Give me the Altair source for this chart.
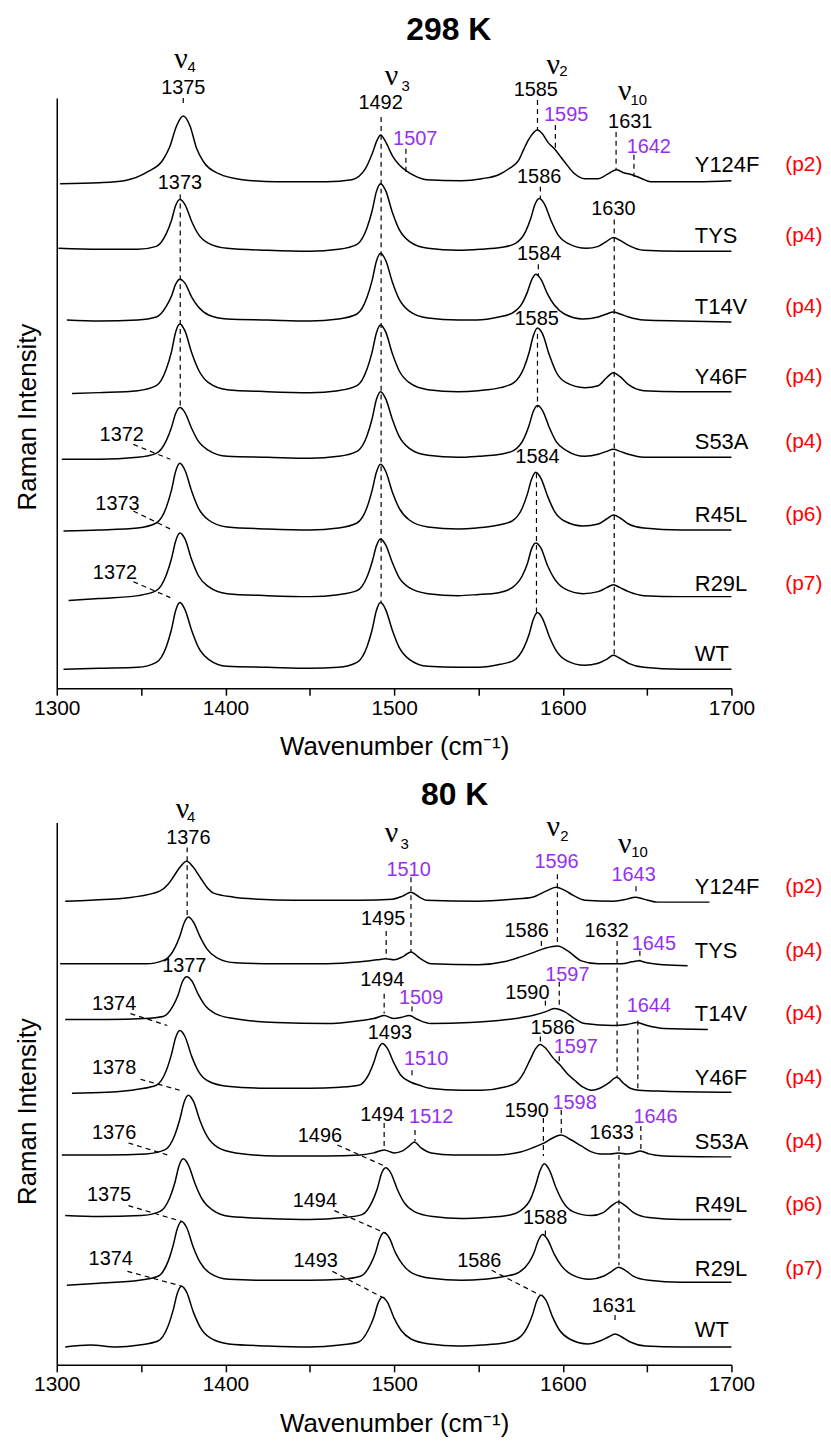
import altair as alt
import pandas as pd

FONT = "Liberation Sans"
SERIF = "Liberation Serif"
PURPLE = "#9530f0"
RED = "#ff0000"

# ---------------- 298 K ----------------
SAMPLES_298 = ["Y124F", "TYS", "T14V", "Y46F", "S53A", "R45L", "R29L", "WT"]
OFFSETS_298 = [507, 439, 369, 297, 231, 159, 92, 19]
PREP_298 = ["(p2)", "(p4)", "(p4)", "(p4)", "(p4)", "(p6)", "(p7)", ""]
LABEL_Y_298 = [526, 454, 383, 313, 247, 174, 105, 34]

Y124F_298 = [(1302,0),(1325,1),(1340,3),(1354,12),(1363,24),(1367,37),(1371,58),(1375,68),(1379,58),(1383,35),(1387,22),(1396,10),(1410,4),(1430,2),(1460,2),(1475,4),(1483,15),(1487,30),(1490,44),(1492,49),(1495,42),(1499,28),(1503,19),(1507,13),(1512,8),(1519,4),(1540,3),(1552,5),(1562,9),(1568,15),(1574,24),(1577,35),(1580,45),(1585,54),(1588,50),(1591,42),(1595,35),(1601,22),(1607,10),(1613,5),(1621,5),(1626,9),(1632,14),(1636,11),(1641,9),(1647,5),(1652,2),(1680,2),(1700,3)]
TYS_298 = [(1301,3),(1325,2),(1348,2),(1359,5),(1365,18),(1368,31),(1370.5,46),(1373,52),(1376,47),(1380,30),(1384,17),(1390,8),(1401,3),(1425,1),(1450,0),(1467,2),(1478,7),(1484,24),(1487,41),(1489.5,60),(1492,68),(1495,61),(1499,39),(1503,22),(1509,10),(1520,3),(1538,1),(1551,2),(1564,4),(1572,8),(1578,20),(1581,33),(1583.5,47),(1586,53),(1589,48),(1593,31),(1597,17),(1603,8),(1614,3),(1621,5),(1626,10),(1630,14),(1634,11),(1639,6),(1648,1),(1670,0),(1700,0)]
T14V_298 = [(1306,1),(1325,0),(1348,1),(1359,4),(1365,15),(1368,25),(1370.5,37),(1373,42),(1376,38),(1380,24),(1384,14),(1390,6),(1401,2),(1425,1),(1450,0),(1467,2),(1478,7),(1484,24),(1487,41),(1489.5,60),(1492,68),(1495,61),(1499,39),(1503,22),(1509,10),(1520,3),(1538,1),(1549,1),(1562,4),(1570,8),(1576,18),(1579,29),(1581.5,41),(1584,47),(1587,42),(1591,27),(1595,16),(1601,7),(1612,2),(1621,4),(1626,7),(1630,9),(1634,7),(1639,4),(1648,1),(1670,0),(1700,-1)]
Y46F_298 = [(1309,-1),(1325,0),(1348,2),(1359,7),(1365,24),(1368,41),(1370.5,61),(1373,69),(1376,62),(1380,40),(1384,23),(1390,10),(1401,3),(1425,1),(1450,0),(1467,2),(1478,7),(1484,24),(1487,41),(1489.5,60),(1492,68),(1495,61),(1499,39),(1503,22),(1509,10),(1520,3),(1538,1),(1550,2),(1563,5),(1571,10),(1577,25),(1580,40),(1582.5,57),(1585,65),(1588,59),(1592,38),(1596,21),(1602,10),(1613,5),(1621,7),(1626,15),(1630,20),(1634,16),(1639,8),(1648,2),(1670,1),(1700,1)]
S53A_298 = [(1303,-1),(1325,-1),(1348,1),(1359,5),(1365,18),(1368,31),(1370.5,45),(1373,51),(1376,46),(1380,30),(1384,17),(1390,8),(1401,2),(1425,1),(1450,0),(1467,2),(1478,7),(1484,23),(1487,40),(1489.5,59),(1492,67),(1495,60),(1499,39),(1503,22),(1509,10),(1520,3),(1538,1),(1550,2),(1563,4),(1571,8),(1577,20),(1580,33),(1582.5,47),(1585,53),(1588,48),(1592,31),(1596,17),(1602,8),(1613,2),(1621,4),(1626,7),(1630,9),(1634,7),(1639,4),(1648,1),(1670,1),(1700,1)]
R45L_298 = [(1304,-1),(1325,0),(1348,2),(1359,7),(1365,23),(1368,40),(1370.5,59),(1373,67),(1376,60),(1380,39),(1384,22),(1390,10),(1401,3),(1425,1),(1450,0),(1467,2),(1478,7),(1484,23),(1487,40),(1489.5,58),(1492,66),(1495,59),(1499,38),(1503,22),(1509,10),(1520,3),(1538,1),(1549,2),(1562,5),(1570,9),(1576,22),(1579,36),(1581.5,51),(1584,58),(1587,52),(1591,34),(1595,19),(1601,9),(1612,4),(1621,6),(1626,11),(1630,15),(1634,12),(1639,6),(1648,2),(1670,0),(1700,0)]
R29L_298 = [(1307,-4),(1325,-2),(1348,1),(1359,6),(1365,22),(1368,38),(1370.5,56),(1373,64),(1376,58),(1380,37),(1384,21),(1390,10),(1401,3),(1425,1),(1450,0),(1467,2),(1478,6),(1484,20),(1487,35),(1489.5,51),(1492,58),(1495,52),(1499,34),(1503,19),(1509,9),(1520,3),(1538,1),(1549,2),(1562,4),(1570,9),(1576,21),(1579,33),(1581.5,48),(1584,54),(1587,49),(1591,31),(1595,18),(1601,8),(1612,3),(1621,5),(1626,9),(1630,12),(1634,9),(1639,5),(1648,1),(1670,0),(1700,0)]
WT_298 = [(1304,0),(1325,1),(1348,2),(1359,7),(1365,23),(1368,40),(1370.5,59),(1373,67),(1376,60),(1380,39),(1384,22),(1390,10),(1401,3),(1425,2),(1450,1),(1467,2),(1478,7),(1484,23),(1487,40),(1489.5,59),(1492,67),(1495,60),(1499,39),(1503,22),(1509,10),(1520,3),(1538,2),(1550,2),(1563,5),(1571,9),(1577,22),(1580,35),(1582.5,50),(1585,57),(1588,51),(1592,33),(1596,19),(1602,9),(1613,4),(1621,6),(1626,10),(1630,14),(1634,11),(1639,6),(1648,2),(1670,0),(1700,0)]
SPECTRA_298 = [Y124F_298, TYS_298, T14V_298, Y46F_298, S53A_298, R45L_298, R29L_298, WT_298]

NUMS_298 = [("1375",1375,603),("1492",1492,588),("1585",1584,601),("1631",1640,569),
            ("1373",1373,508),("1586",1586,514),("1630",1630,481),("1584",1586,436),
            ("1585",1584.5,371),("1584",1585,232),("1372",1338.5,254),("1373",1336,185),
            ("1372",1334.5,116)]
PURPLE_298 = [("1507",1512.5,552),("1595",1602,576),("1642",1651,544)]
NU_298 = [(1373.7,632),(1498.5,615),(1594.4,626),(1636.7,600)]
NU_SUB_298 = [("4",1379.9,624),("3",1506.8,605),("2",1600.3,620),("10",1645.1,591)]
DASH_298 = [(1375,593,1375,585),(1373.2,496,1373.2,281),(1492.3,574,1492.3,86),
            (1507,542,1507,519),(1585,591,1585,561),(1595.6,566,1595.6,542),
            (1631.6,559,1631.6,521),(1642.2,536,1642.2,514),(1586.7,504,1586.7,492),
            (1630.5,471,1630.5,32),(1585.5,426,1585.5,414),(1585,356,1585,282),
            (1584.4,216,1584.4,76),
            (1345.4,245,1367.3,230),(1345.4,178,1367.3,160),(1345.4,107,1367.3,91)]
TITLE_298 = [("298 K",1532.4,661)]

# ---------------- 80 K ----------------
SAMPLES_80 = ["Y124F", "TYS", "T14V", "Y46F", "S53A", "R49L", "R29L", "WT"]
OFFSETS_80 = [466, 402, 343, 275, 210, 147, 83, 18]
PREP_80 = ["(p2)", "(p4)", "(p4)", "(p4)", "(p4)", "(p6)", "(p7)", ""]
LABEL_Y_80 = [480, 416, 353, 288, 224, 161, 96, 35]

Y124F_80 = [(1305,0),(1320,1),(1345,4),(1361,10),(1366,17),(1369,24),(1373,34),(1377,40),(1381,34),(1385,24),(1389,14),(1393,8),(1405,4),(1420,2),(1440,1),(1480,1),(1499,2),(1505,5),(1510,9),(1515,4),(1519,1),(1550,0),(1570,2),(1582,4),(1590,10),(1596,14),(1602,10),(1606,6),(1613,1),(1630,0),(1638,2),(1643,4),(1648,2),(1656,-1),(1687,-1)]
TYS_80 = [(1302,1),(1325,1),(1353,1),(1364,5),(1370,17),(1373,29),(1375.5,42),(1378,48),(1381,43),(1385,28),(1389,16),(1395,7),(1406,2),(1430,1),(1460,1),(1480,3),(1490,5),(1495,6),(1500,5),(1505,8),(1510,13),(1515,7),(1522,1),(1550,0),(1565,3),(1575,8),(1582,12),(1590,17),(1597,19),(1603,14),(1611,4),(1621,1),(1635,1),(1641,3),(1645,4),(1650,2),(1660,0),(1674,-1)]
T14V_80 = [(1305,4),(1330,4),(1352,5),(1363,7),(1369,18),(1372,29),(1374.5,42),(1377,47),(1380,43),(1384,29),(1388,18),(1394,10),(1405,5),(1430,1),(1460,0),(1480,3),(1488,5),(1494,8),(1500,5),(1504,6),(1509,8),(1514,4),(1522,0),(1545,1),(1562,3),(1572,5),(1582,8),(1590,12),(1595,15),(1601,12),(1607,5),(1613,0),(1630,-2),(1638,-1),(1644,1),(1650,-2),(1660,-5),(1686,-6)]
Y46F_80 = [(1309,-2),(1330,-1),(1348,2),(1359,6),(1365,21),(1368,37),(1370.5,54),(1373,61),(1376,55),(1380,35),(1384,20),(1390,10),(1401,5),(1425,3),(1450,3),(1468,4),(1479,6),(1485,17),(1488,29),(1490.5,42),(1493,48),(1496,43),(1500,28),(1504,16),(1510,9),(1515,6),(1521,3),(1540,1),(1552,1),(1565,4),(1572,8),(1577,19),(1581,33),(1584,43),(1586.5,47),(1590,43),(1594,34),(1598,27),(1603,17),(1607,11),(1612,4),(1617,1),(1622,3),(1627,8),(1632,14),(1636,8),(1640,3),(1645,1),(1660,0),(1700,-1)]
S53A_80 = [(1303,1),(1330,1),(1353,2),(1364,6),(1370,21),(1373,37),(1375.5,54),(1378,61),(1381,55),(1385,35),(1389,20),(1395,9),(1406,3),(1430,0),(1460,0),(1480,1),(1488,3),(1494,6),(1500,3),(1505,5),(1509,10),(1512,14),(1516,8),(1522,3),(1535,1),(1560,1),(1575,4),(1582,8),(1589,13),(1594,18),(1599,21),(1604,17),(1611,10),(1617,4),(1622,2),(1628,2),(1633,3),(1638,2),(1642,3),(1646,5),(1651,2),(1660,0),(1700,-1)]
R49L_80 = [(1305,3),(1325,2),(1350,3),(1361,7),(1367,21),(1370,36),(1372.5,53),(1375,60),(1378,54),(1382,35),(1386,20),(1392,9),(1403,2),(1425,0),(1450,-1),(1470,1),(1481,4),(1487,17),(1490,30),(1492.5,45),(1495,51),(1498,46),(1502,29),(1506,16),(1512,7),(1523,2),(1540,0),(1554,1),(1567,3),(1575,8),(1581,20),(1584,34),(1586.5,48),(1589,55),(1592,49),(1596,31),(1600,17),(1606,7),(1617,3),(1624,6),(1629,13),(1633,17),(1637,13),(1642,6),(1651,1),(1670,-1),(1700,-1)]
R29L_80 = [(1306,-3),(1325,-1),(1349,2),(1360,6),(1366,21),(1369,37),(1371.5,54),(1374,61),(1377,55),(1381,35),(1385,20),(1391,9),(1402,3),(1425,2),(1450,2),(1469,3),(1480,6),(1486,18),(1489,30),(1491.5,44),(1494,50),(1497,45),(1501,29),(1505,18),(1511,9),(1522,4),(1540,2),(1553,3),(1566,6),(1574,10),(1580,20),(1583,30),(1585.5,42),(1588,48),(1591,43),(1595,28),(1599,17),(1605,8),(1616,3),(1624,6),(1629,11),(1633,15),(1637,12),(1642,6),(1651,2),(1670,0),(1700,0)]
WT_80 = [(1305,0),(1320,2),(1335,0),(1349,2),(1360,6),(1366,21),(1369,37),(1371.5,54),(1374,61),(1377,55),(1381,35),(1385,20),(1391,9),(1402,3),(1425,1),(1450,0),(1468,2),(1479,5),(1485,18),(1488,30),(1490.5,44),(1493,50),(1496,45),(1500,29),(1504,17),(1510,8),(1521,3),(1538,1),(1552,2),(1565,4),(1573,8),(1579,20),(1582,32),(1584.5,46),(1587,52),(1590,47),(1594,30),(1598,17),(1604,8),(1615,3),(1622,6),(1627,10),(1631,13),(1635,10),(1640,5),(1649,1),(1670,0),(1700,0)]
SPECTRA_80 = [Y124F_80, TYS_80, T14V_80, Y46F_80, S53A_80, R49L_80, R29L_80, WT_80]

NUMS_80 = [("1376",1378,529),("1495",1493.5,448),("1586",1578.6,436),("1632",1626,436),
           ("1377",1375.6,401),("1494",1493,387),("1374",1334,363),("1590",1579,374),
           ("1493",1497.5,333),("1586",1594,338),("1378",1334,298),("1494",1493,251),
           ("1590",1578.6,255),("1633",1629,233),("1376",1334,233),("1496",1456,230),
           ("1375",1331,171),("1494",1453,165),("1588",1589.5,148),("1374",1332,106),
           ("1493",1453.5,104),("1586",1550.5,104),("1631",1630.3,59)]
PURPLE_80 = [("1510",1508.6,497),("1596",1596.3,505),("1643",1642,492),("1645",1654,423),
             ("1509",1516,369),("1597",1602.7,392),("1644",1651,361),("1597",1607.7,319),
             ("1510",1519,307),("1512",1522,249),("1598",1607,263),("1646",1655,249)]
NU_80 = [(1374.6,559),(1498.5,534),(1594.4,540),(1636.7,523)]
NU_SUB_80 = [("4",1379.6,551),("3",1506.2,523),("2",1600.9,531),("10",1645.5,515)]
DASH_80 = [(1377.3,520,1377.3,450),(1495.3,436,1495.3,408),(1510,490,1510,415),
           (1494.1,373,1494.1,353),(1510.6,360,1510.6,351),(1510.6,296,1510.6,288),
           (1494.1,243,1494.1,218),(1512.4,236,1512.4,225),(1596.8,493,1596.8,421),
           (1587.3,426,1587.3,420),(1632.2,426,1632.2,288),(1645.7,416,1645.7,406),
           (1643.4,481,1643.4,475),(1589.7,366,1589.7,358),(1597.9,385,1597.9,360),
           (1644.5,346,1644.5,276),(1586.7,330,1586.7,323),(1597.9,310,1597.9,301),
           (1588.5,248,1588.5,210),(1599.1,256,1599.1,231),(1633.3,220,1633.3,100),
           (1646.3,240,1646.3,215),(1589.7,135,1589.7,130),(1631,50,1631,41),
           (1343.7,353,1365.5,341),(1349.6,287,1374.9,275),(1342.5,223,1365.5,211),
           (1466.4,221,1495.3,199),(1342.5,160,1374.3,144),(1464.6,155,1495.3,132),
           (1341.9,94,1374.3,79),(1463.4,94,1492.9,68),(1557.8,95,1586.7,70)]
TITLE_80 = [("80 K",1535.9,573)]

NAME_X = 1678.3
PREP_X = 1731.9


def spectra_frame(samples, offsets, spectra):
    rows = []
    for name, off, pts in zip(samples, offsets, spectra):
        for i, (x, v) in enumerate(pts):
            rows.append({"sample": name, "i": i, "x": x, "y": off + v})
    return pd.DataFrame(rows)


def text_frame(items):
    return pd.DataFrame([{"t": t, "x": x, "y": y} for t, x, y in items])


def panel(height, samples, offsets, spectra, preps, label_y, nums, purples,
          nus, subs, dashes, title, title_y):
    xenc = alt.X("x:Q", title="Wavenumber (cm\u207b\u00b9)",
                 scale=alt.Scale(domain=[1300, 1700], nice=False, zero=False),
                 axis=alt.Axis(values=list(range(1300, 1701, 50)), format="d",
                               labelExpr="datum.value % 100 == 0 ? datum.label : ''",
                               labelFlush=False, labelOverlap=False, grid=False,
                               titlePadding=16))
    yenc = alt.Y("y:Q", title="Raman Intensity",
                 scale=alt.Scale(domain=[0, height], nice=False, zero=False),
                 axis=alt.Axis(labels=False, ticks=False, grid=False,
                               titlePadding=16, titleY=title_y))

    spec = spectra_frame(samples, offsets, spectra)
    lines = alt.Chart(spec).mark_line(color="black", strokeWidth=1.5,
                                      interpolate="monotone").encode(
        x=xenc, y=yenc, detail="sample:N", order="i:Q")

    dash_df = pd.DataFrame([{"x": a, "y": b, "x2": c, "y2": d} for a, b, c, d in dashes])
    rules = alt.Chart(dash_df).mark_rule(color="black", strokeWidth=1.2,
                                         strokeDash=[5, 4]).encode(
        x=xenc, y=yenc, x2="x2:Q", y2="y2:Q")

    def txt(df, **kw):
        return alt.Chart(df).mark_text(baseline="middle", **kw).encode(
            x=xenc, y=yenc, text="t:N")

    black = txt(text_frame(nums), font=FONT, fontSize=20, color="black", align="center")
    purple = txt(text_frame(purples), font=FONT, fontSize=20, color=PURPLE, align="center")
    nu = txt(text_frame([("\u03bd", x, y) for x, y in nus]), font=SERIF, fontSize=30,
             color="black", align="center")
    sub = txt(text_frame(subs), font=FONT, fontSize=15, color="black", align="center")
    names = txt(text_frame(list(zip(samples, [NAME_X] * len(samples), label_y))),
                font=FONT, fontSize=22, color="black", align="left")
    preps_df = text_frame([(p, PREP_X, y) for p, y in zip(preps, label_y) if p])
    prep = txt(preps_df, font=FONT, fontSize=21, color=RED, align="left")
    ttl = txt(text_frame(title), font=FONT, fontSize=32, fontWeight="bold",
              color="black", align="center")

    return alt.layer(lines, rules, black, purple, nu, sub, names, prep, ttl).properties(
        width=678, height=height)


top = panel(593, SAMPLES_298, OFFSETS_298, SPECTRA_298, PREP_298, LABEL_Y_298,
            NUMS_298, PURPLE_298, NU_298, NU_SUB_298, DASH_298, TITLE_298, 320)
bottom = panel(545, SAMPLES_80, OFFSETS_80, SPECTRA_80, PREP_80, LABEL_Y_80,
               NUMS_80, PURPLE_80, NU_80, NU_SUB_80, DASH_80, TITLE_80, 290)

chart = alt.vconcat(top, bottom, spacing=17).properties(
    padding={"left": 6, "top": 2, "right": 0, "bottom": 0},
    background="white",
).configure_view(stroke="transparent").configure_axis(
    domainColor="black", domainWidth=1.5, tickColor="black", tickWidth=1.5,
    tickSize=7, labelFont=FONT, labelFontSize=21, labelColor="black",
    labelPadding=2, titleFont=FONT, titleFontSize=26, titleFontWeight="normal",
    titleColor="black",
)

chart.save("out.html", embed_options={"renderer": "svg", "actions": False})
